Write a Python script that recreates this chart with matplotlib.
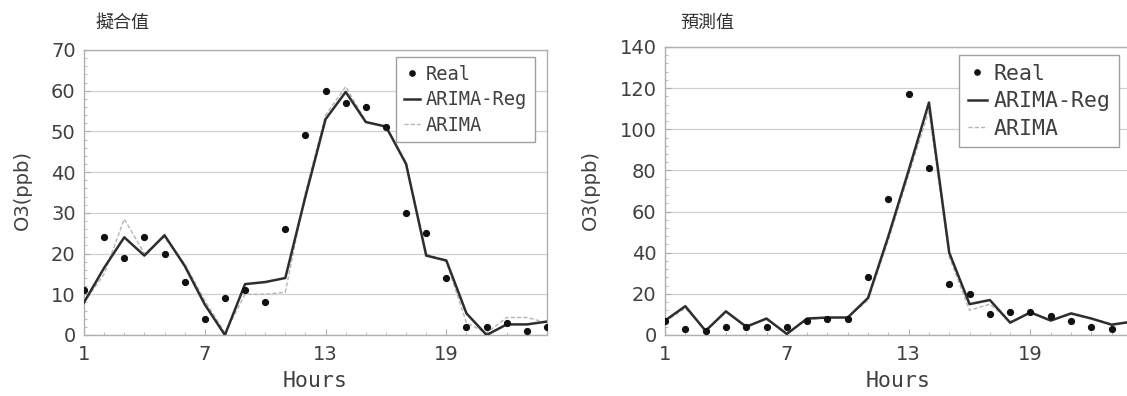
import matplotlib
matplotlib.use("Agg")
import matplotlib.pyplot as plt
from matplotlib.ticker import MultipleLocator, FixedLocator
import numpy as np

hours = list(range(1, 25))

# Left panel: fitted values
fit_real = [11, 24, 19, 24, 20, 13, 4, 9, 11, 8, 26, 49, 60, 57, 56, 51, 30, 25, 14, 2, 2, 3, 1, 2]
fit_reg = [8, 16.5, 24, 19.5, 24.5, 17, 7.5, 0, 12.5, 13, 14, 34, 53, 59.7, 52.3, 51.2, 42, 19.5, 18.3, 5.3, 0, 2.6, 2.6, 3.3]
fit_arima = [8, 15, 28.5, 20, 24, 17.5, 8.5, 0.5, 10, 10, 10.5, 35, 54, 61, 52.5, 51, 42.5, 20, 18, 3, 0.5, 4.3, 4.3, 3]

# Right panel: predicted values
pre_real = [7, 3, 2, 4, 4, 4, 4, 7, 8, 8, 28, 66, 117, 81, 25, 20, 10, 11, 11, 9, 7, 4, 3, 2]
pre_reg = [7, 14, 2, 11.5, 4, 8, 0.5, 8, 8.5, 8.5, 18, 48, 80, 113, 40, 15, 17, 6, 11, 7, 10.5, 8, 5, 6.5]
pre_arima = [6.5, 13, 2.5, 11, 4.5, 7.5, 1, 7.5, 8.5, 8.5, 17, 46, 78, 109, 38, 12, 15, 6.5, 10.5, 7.5, 10, 8, 5.5, 6]

titles = ["擬合值", "預測值"]
xticks = [1, 7, 13, 19]
ylabel = "O3(ppb)"
xlabel = "Hours"
legend_labels = ["Real", "ARIMA-Reg", "ARIMA"]

fig = plt.figure(figsize=(11.27, 3.96), dpi=100)

specs = [
    dict(pos=[84 / 1127, 1 - 335 / 396, 463 / 1127, 285 / 396], ymax=70, ystep=10, yminor=2,
         real=fit_real, reg=fit_reg, ar=fit_arima, title=titles[0], tx=95,
         leg=dict(bbox=(396 / 1127, 1 - 57 / 396), fs=13.5), ylx=22),
    dict(pos=[665 / 1127, 1 - 335 / 396, 467 / 1127, 288 / 396], ymax=140, ystep=20, yminor=4,
         real=pre_real, reg=pre_reg, ar=pre_arima, title=titles[1], tx=680,
         leg=dict(bbox=(959 / 1127, 1 - 55 / 396), fs=15.5), ylx=590),
]

grid_c = "#d0d0d0"
frame_c = "#b0b0b0"
text_c = "#404040"

for s in specs:
    ax = fig.add_axes(s["pos"])
    ax.set_xlim(1, 24)
    ax.set_ylim(0, s["ymax"])
    ax.yaxis.set_major_locator(MultipleLocator(s["ystep"]))
    ax.yaxis.set_minor_locator(MultipleLocator(s["yminor"]))
    ax.xaxis.set_major_locator(FixedLocator(xticks))
    ax.xaxis.set_minor_locator(MultipleLocator(1))
    ax.tick_params(axis="both", which="both", direction="in", colors=frame_c,
                   labelcolor=text_c, labelsize=14)
    ax.tick_params(which="major", length=4)
    ax.tick_params(which="minor", length=2)
    ax.tick_params(axis="x", which="major", pad=7)
    ax.tick_params(axis="y", which="major", pad=6)
    for lab in ax.get_xticklabels() + ax.get_yticklabels():
        lab.set_family("DejaVu Sans")
    for sp in ax.spines.values():
        sp.set_color(frame_c)
        sp.set_linewidth(1.0)
    ax.grid(axis="y", which="major", color=grid_c, linewidth=0.9)
    ax.set_axisbelow(True)

    ax.plot(hours, s["ar"], color="#b5b5b5", linewidth=1.0, linestyle=(0, (3, 1.5)), label=legend_labels[2], zorder=2)
    ax.plot(hours, s["reg"], color="#2e2e2e", linewidth=1.8, label=legend_labels[1], zorder=3)
    ax.plot(hours, s["real"], linestyle="none", marker="o", markersize=4.2, color="#111111",
            label=legend_labels[0], zorder=4)

    handles, labels = ax.get_legend_handles_labels()
    order = [2, 1, 0]
    leg = ax.legend([handles[i] for i in order], [labels[i] for i in order],
                    loc="upper left", bbox_to_anchor=s["leg"]["bbox"], bbox_transform=fig.transFigure,
                    borderaxespad=0,
                    prop={"family": "DejaVu Sans Mono", "size": s["leg"]["fs"]},
                    handlelength=0.9, handletextpad=0.3, borderpad=0.4, labelspacing=0.35,
                    fancybox=False, framealpha=1, edgecolor="#a0a0a0", markerscale=0.9)
    leg.get_frame().set_linewidth(1.0)
    for t in leg.get_texts():
        t.set_color(text_c)

    ax.set_xlabel(xlabel, family="DejaVu Sans Mono", fontsize=15.5, color=text_c, labelpad=5)
    fig.text(s["ylx"] / 1127, 1 - 190 / 396, ylabel, rotation=90, ha="center", va="center",
             family="DejaVu Sans", fontsize=14, color=text_c)
    fig.text(s["tx"] / 1127, 1 - 23 / 396, s["title"], ha="left", va="center",
             family=["Noto Sans CJK TC", "DejaVu Sans"], fontsize=13, color="#333333")

fig.savefig("out.png", dpi=100)
